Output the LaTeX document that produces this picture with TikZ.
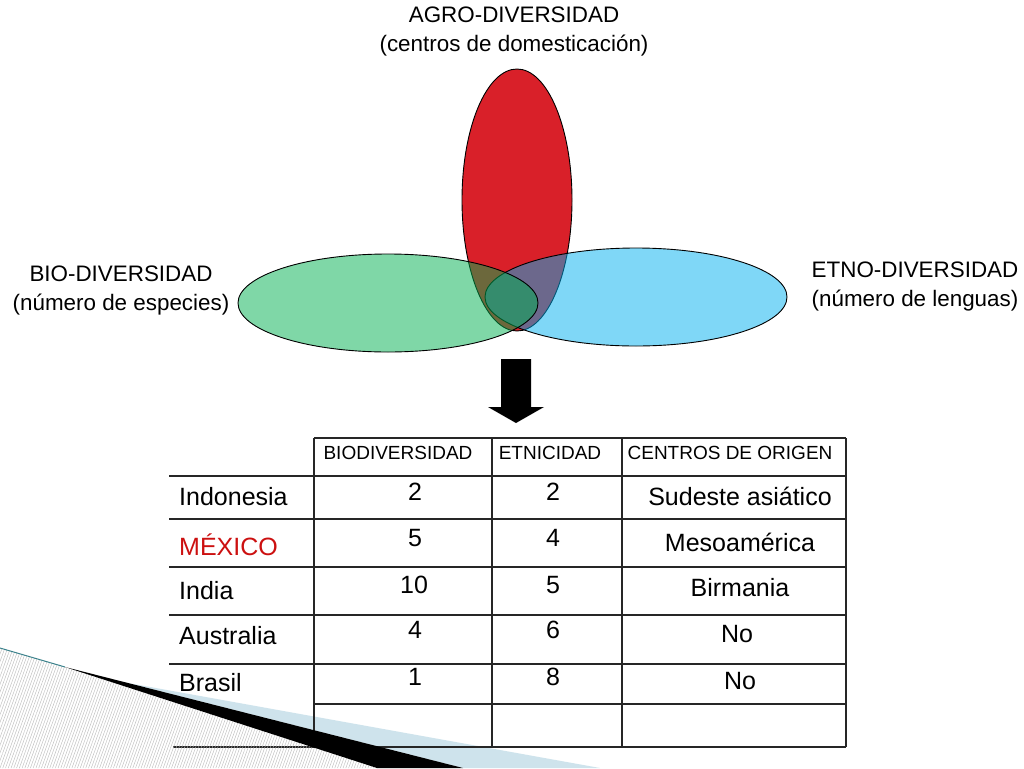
\documentclass[tikz,border=0pt]{standalone}
\usepackage{fontspec}
\setmainfont{Liberation Sans}
\usetikzlibrary{patterns.meta}
\definecolor{redfill}{RGB}{217,32,41}
\definecolor{greenfill}{RGB}{0,176,80}
\definecolor{bluefill}{RGB}{0,176,240}
\definecolor{bandblue}{RGB}{206,227,236}
\definecolor{hatchgray}{RGB}{185,185,185}
\definecolor{tealedge}{RGB}{60,130,140}
\definecolor{mexred}{RGB}{204,16,16}
\begin{document}
\begin{tikzpicture}[x=1pt,y=-1pt,
  venn/.style={draw=black, line width=0.9pt},
  lbl/.style={align=center, font=\fontsize{22.4}{29}\selectfont, inner sep=0pt},
  hdr/.style={font=\fontsize{19}{21}\selectfont, inner sep=0pt},
  rowlbl/.style={anchor=west, font=\fontsize{25}{27}\selectfont, inner sep=0pt},
  cell/.style={font=\fontsize{25}{27}\selectfont, inner sep=0pt},
  grid/.style={line width=1.3pt, draw=black!85}]
\useasboundingbox[fill=white] (0,0) rectangle (1024,768);

% Venn diagram
\path[venn, fill=redfill] (517,200) ellipse [x radius=55, y radius=131];
\path[venn, fill=bluefill, fill opacity=0.5] (636,297) ellipse [x radius=151, y radius=49];
\path[venn, fill=greenfill, fill opacity=0.5] (388,303) ellipse [x radius=150, y radius=49];

\node[lbl] (agro) at (514,31) {AGRO-DIVERSIDAD\\(centros de domesticación)};
\node[lbl] (bio) at (121,290) {BIO-DIVERSIDAD\\(número de especies)};
\node[lbl] (etno) at (915,286) {ETNO-DIVERSIDAD\\(número de lenguas)};

% block arrow
\fill[black] (501,359) -- (531,359) -- (531,407) -- (544,407) -- (516,423)
  -- (488,407) -- (501,407) -- cycle;

% decoration: light blue band (under table)
\fill[bandblue] (128,683) -- (600,768) -- (463,768) -- cycle;

% table grid
\draw[grid] (314,438) -- (846,438);
\draw[grid] (169,476) -- (846,476);
\foreach \yy in {519,567,615,664} { \draw[grid] (169,\yy) -- (846,\yy); }
\draw[grid] (314,704) -- (846,704);
\draw[grid] (173,747) -- (846,747);
\foreach \xx in {314,492,622,846} { \draw[grid] (\xx,438) -- (\xx,747); }

% header
\node[hdr] (h1) at (398,453) {BIODIVERSIDAD};
\node[hdr] (h2) at (550,453) {ETNICIDAD};
\node[hdr] (h3) at (730,453) {CENTROS DE ORIGEN};

% rows
\node[rowlbl] (r1) at (179,497) {Indonesia};
\node[rowlbl, text=mexred] (r2) at (179,545) {MÉXICO};
\node[rowlbl] (r3) at (179,591) {India};
\node[rowlbl] (r4) at (179,636) {Australia};
\node[rowlbl] (r5) at (179,683) {Brasil};

\node[cell] (b1) at (415,492) {2};
\node[cell] (b2) at (415,538) {5};
\node[cell] (b3) at (414,585) {10};
\node[cell] (b4) at (415,630) {4};
\node[cell] (b5) at (415,677) {1};

\node[cell] (e1) at (553,492) {2};
\node[cell] (e2) at (553,538) {4};
\node[cell] (e3) at (553,585) {5};
\node[cell] (e4) at (553,630) {6};
\node[cell] (e5) at (553,677) {8};

\node[cell] (c1) at (740,496) {Sudeste asiático};
\node[cell] (c2) at (740,542) {Mesoamérica};
\node[cell] (c3) at (740,588) {Birmania};
\node[cell] (c4) at (737,634) {No};
\node[cell] (c5) at (740,681) {No};

% decoration: hatched corner and black wedge (over table)
\path[pattern={Lines[angle=70,distance=2.6pt,line width=0.4pt]}, pattern color=hatchgray]
  (0,648) -- (65,667) -- (377,768) -- (0,768) -- cycle;
\draw[tealedge, line width=1pt] (0,648) -- (65,667);
\fill[black] (65,667) -- (463,768) -- (377,768) -- cycle;
\end{tikzpicture}
\end{document}
